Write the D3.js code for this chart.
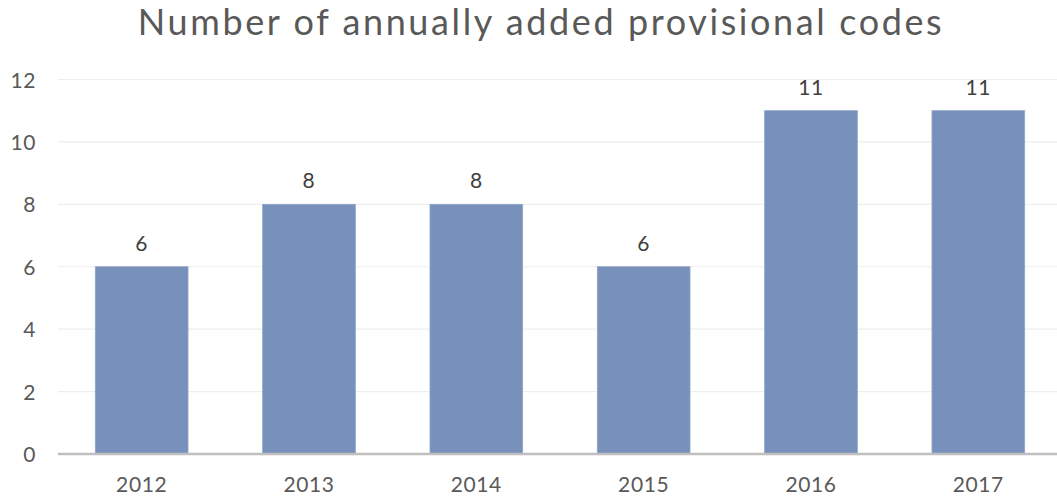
<!DOCTYPE html>
<html>
<head>
<meta charset="utf-8">
<script src="https://cdn.jsdelivr.net/npm/d3@7"></script>
<style>
  html, body { margin: 0; padding: 0; background: #fff; }
  svg { display: block; font-family: "Lato", "Open Sans", sans-serif; }
</style>
</head>
<body>
<svg id="chart" width="1057" height="501"></svg>
<script>
// Provisional codes added per year
const years = ["2012", "2013", "2014", "2015", "2016", "2017"];
const counts = [6, 8, 8, 6, 11, 11];
const yTicks = [0, 2, 4, 6, 8, 10, 12];
const title = "Number of annually added provisional codes";

const svg = d3.select("#chart");
const W = 1057, H = 501;
const plot = { left: 58, right: 1062, top: 79.5, bottom: 454 };

const x = d3.scaleBand()
  .domain(years)
  .range([plot.left, plot.right])
  .paddingInner(0.446)
  .paddingOuter(0.223);

const y = d3.scaleLinear()
  .domain([0, 12])
  .range([plot.bottom, plot.top]);

// Title
svg.append("text")
  .attr("x", 541)
  .attr("y", 35)
  .attr("text-anchor", "middle")
  .attr("fill", "#595959")
  .attr("font-size", 36)
  .attr("letter-spacing", 2.6)
  .text(title);

// Horizontal gridlines
svg.append("g")
  .selectAll("line")
  .data(yTicks.filter(d => d > 0))
  .join("line")
  .attr("x1", plot.left)
  .attr("x2", W)
  .attr("y1", d => y(d))
  .attr("y2", d => y(d))
  .attr("stroke", "#eeeeee")
  .attr("stroke-width", 1.2);

// Y axis labels
const yAxis = d3.axisLeft(y).tickValues(yTicks).tickSize(0).tickPadding(0);
svg.append("g")
  .attr("transform", `translate(36,0)`)
  .call(yAxis)
  .call(g => g.select(".domain").remove())
  .call(g => g.selectAll("text")
    .attr("fill", "#595959")
    .attr("font-size", 21)
    .attr("letter-spacing", 0.6)
    .attr("font-family", "Lato, 'Open Sans', sans-serif")
    .attr("dy", "0.36em"));

// Bars
svg.append("g")
  .selectAll("rect")
  .data(years.map((yr, i) => ({ yr, v: counts[i] })))
  .join("rect")
  .attr("x", d => x(d.yr))
  .attr("width", x.bandwidth())
  .attr("y", d => y(d.v))
  .attr("height", d => y(0) - y(d.v))
  .attr("fill", "#7891ba")
  .attr("stroke", "#8fa4c8")
  .attr("stroke-width", 0.8);

// Value labels
svg.append("g")
  .selectAll("text")
  .data(years.map((yr, i) => ({ yr, v: counts[i] })))
  .join("text")
  .attr("x", d => x(d.yr) + x.bandwidth() / 2)
  .attr("y", d => y(d.v) - 16)
  .attr("text-anchor", "middle")
  .attr("fill", "#404040")
  .attr("font-size", 21)
  .attr("letter-spacing", 0.6)
  .text(d => d.v);

// Baseline
svg.append("line")
  .attr("x1", plot.left)
  .attr("x2", W)
  .attr("y1", y(0))
  .attr("y2", y(0))
  .attr("stroke", "#bfbfbf")
  .attr("stroke-width", 2.5);

// X axis labels
const xAxis = d3.axisBottom(x).tickSize(0).tickPadding(0);
svg.append("g")
  .attr("transform", `translate(0,${y(0)})`)
  .call(xAxis)
  .call(g => g.select(".domain").remove())
  .call(g => g.selectAll("text")
    .attr("fill", "#595959")
    .attr("font-size", 21)
    .attr("letter-spacing", 0.6)
    .attr("font-family", "Lato, 'Open Sans', sans-serif")
    .attr("dy", 0)
    .attr("y", 37.5));
</script>
</body>
</html>
